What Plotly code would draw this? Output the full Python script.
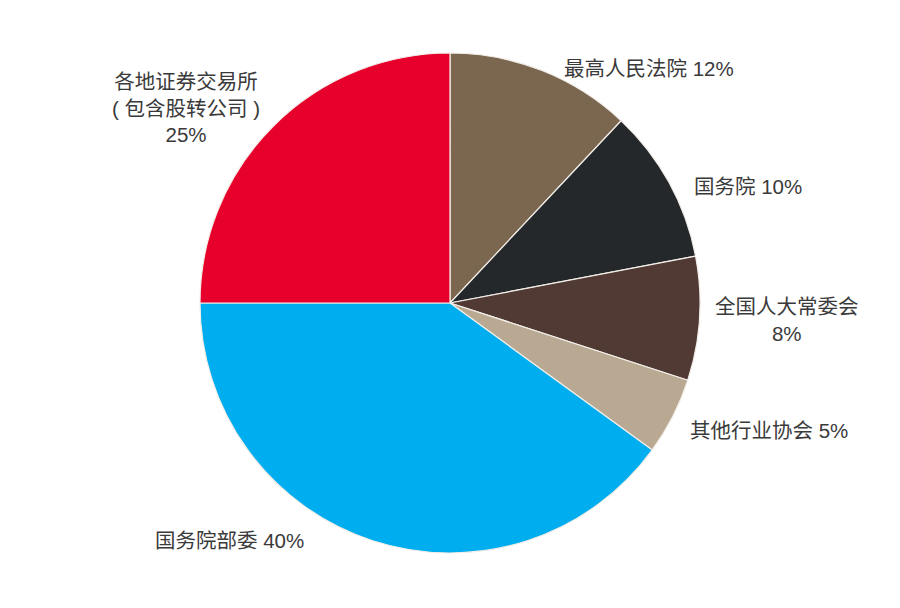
import plotly.graph_objects as go

# slice data, clockwise from 12 o'clock
labels = ["最高人民法院", "国务院", "全国人大常委会", "其他行业协会", "国务院部委", "各地证券交易所（包含股转公司）"]
shares = [12, 10, 8, 5, 40, 25]
colors = ["#7B6750", "#25282B", "#523A34", "#B9A892", "#00ADEF", "#E8002D"]

# label text as shown beside each slice
label_text = [
    "最高人民法院 12%",
    "国务院 10%",
    "全国人大常委会<br>8%",
    "其他行业协会 5%",
    "国务院部委 40%",
    "各地证券交易所<br>( 包含股转公司 )<br>25%",
]

W, H = 900, 608
OFF = 8  # page body margin in the browser shifts the figure
# pixel centres of the label blocks (screen coords)
label_px = [(649, 68), (748, 187), (787, 320), (769, 430), (229, 540), (186, 108)]


def fx(px):
    return (px - OFF) / W


def fy(py):
    return 1 - (py - OFF) / H


fig = go.Figure()
fig.add_trace(go.Pie(
    labels=labels,
    values=shares,
    sort=False,
    direction="clockwise",
    rotation=0,
    marker=dict(colors=colors, line=dict(color="#F2EEE8", width=1.2)),
    textinfo="none",
    hoverinfo="label+percent",
    domain=dict(x=[fx(200), fx(700)], y=[fy(553), fy(53)]),
    showlegend=False,
))

for txt, (px, py) in zip(label_text, label_px):
    fig.add_annotation(
        x=fx(px), y=fy(py), xref="paper", yref="paper",
        text=txt, showarrow=False, align="center",
        xanchor="center", yanchor="middle",
        font=dict(family="Liberation Sans, Noto Sans CJK SC, sans-serif", size=20.5, color="#3A3A3A"),
    )

fig.update_layout(
    width=W, height=H,
    margin=dict(l=0, r=0, t=0, b=0),
    paper_bgcolor="white",
    plot_bgcolor="white",
)

fig.write_html("out.html")
